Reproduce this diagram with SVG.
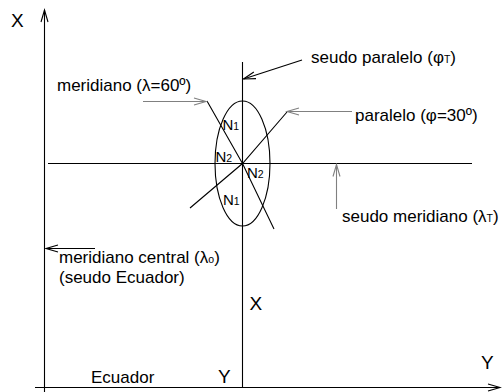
<svg xmlns="http://www.w3.org/2000/svg" width="503" height="392" viewBox="0 0 503 392">
<style>
text{font-family:"Liberation Sans",Arial,sans-serif;fill:#000}
.lbl{font-size:17px}
.big{font-size:19px}
.n{font-size:15px}
.sub{font-size:10.5px}
.ln{fill:none;stroke:#000;stroke-width:1.1}
.g{stroke:#808080}
</style>
<defs>
<marker id="ah" markerUnits="userSpaceOnUse" markerWidth="16" markerHeight="10" viewBox="-13 -5 14 10" refX="0" refY="0" orient="auto">
<path d="M-12,-3.5 L0,0 L-12,3.5" fill="none" stroke="#000" stroke-width="1.1"/>
</marker>
<marker id="ahg" markerUnits="userSpaceOnUse" markerWidth="16" markerHeight="10" viewBox="-13 -5 14 10" refX="0" refY="0" orient="auto">
<path d="M-12,-3.5 L0,0 L-12,3.5" fill="none" stroke="#808080" stroke-width="1.1"/>
</marker>
</defs>
<rect width="503" height="392" fill="#fff"/>
<g id="connectors">
<line class="ln" x1="44.5" y1="392" x2="44.5" y2="10" marker-end="url(#ah)"/>
<line class="ln" x1="35" y1="387.5" x2="500" y2="387.5" marker-end="url(#ah)"/>
<line class="ln" x1="242.5" y1="62" x2="242.5" y2="388"/>
<line class="ln" x1="48" y1="163.5" x2="472" y2="163.5"/>
<ellipse class="ln" cx="242.5" cy="163.5" rx="27.5" ry="62.5"/>
<polyline class="ln" points="207,101 242.5,163.5 274,229"/>
<polyline class="ln" points="190,208 242.5,163.5 287,112"/>
<line class="ln g" x1="143" y1="101.5" x2="206" y2="101.5" marker-end="url(#ahg)"/>
<line class="ln g" x1="352" y1="111.5" x2="287" y2="111.5" marker-end="url(#ahg)"/>
<line class="ln" x1="302" y1="60" x2="243.5" y2="79" marker-end="url(#ah)"/>
<line class="ln g" x1="336.5" y1="209" x2="336.5" y2="164.5" marker-end="url(#ahg)"/>
<line class="ln" x1="95" y1="248.5" x2="46" y2="248.5" marker-end="url(#ah)"/>
</g>
<g id="axis-x-top"><text class="big" x="11" y="27">X</text></g>
<g id="axis-x-mid"><text class="big" x="249.5" y="310">X</text></g>
<g id="axis-y-left"><text class="big" x="218" y="383">Y</text></g>
<g id="axis-y-right"><text class="big" x="481" y="368.5">Y</text></g>
<g id="ecuador"><text class="lbl" x="91" y="383">Ecuador</text></g>
<g id="meridiano"><text class="lbl" x="57" y="91">meridiano (λ=60º)</text></g>
<g id="seudo-paralelo"><text class="lbl" x="311" y="62.5">seudo paralelo (φ<tspan class="sub">T</tspan>)</text></g>
<g id="paralelo"><text class="lbl" x="355" y="121">paralelo (φ=30º)</text></g>
<g id="seudo-meridiano"><text class="lbl" x="342" y="222">seudo meridiano (λ<tspan class="sub">T</tspan>)</text></g>
<g id="meridiano-central"><text class="lbl" x="59" y="263">meridiano central (λ<tspan class="sub">o</tspan>)</text><text class="lbl" x="59" y="283">(seudo Ecuador)</text></g>
<g id="n1-top"><text class="n" x="222.5" y="130">N<tspan class="sub">1</tspan></text></g>
<g id="n2-left"><text class="n" x="215.5" y="161.5">N<tspan class="sub">2</tspan></text></g>
<g id="n2-right"><text class="n" x="247" y="177.5">N<tspan class="sub">2</tspan></text></g>
<g id="n1-bottom"><text class="n" x="223" y="205">N<tspan class="sub">1</tspan></text></g>
</svg>
